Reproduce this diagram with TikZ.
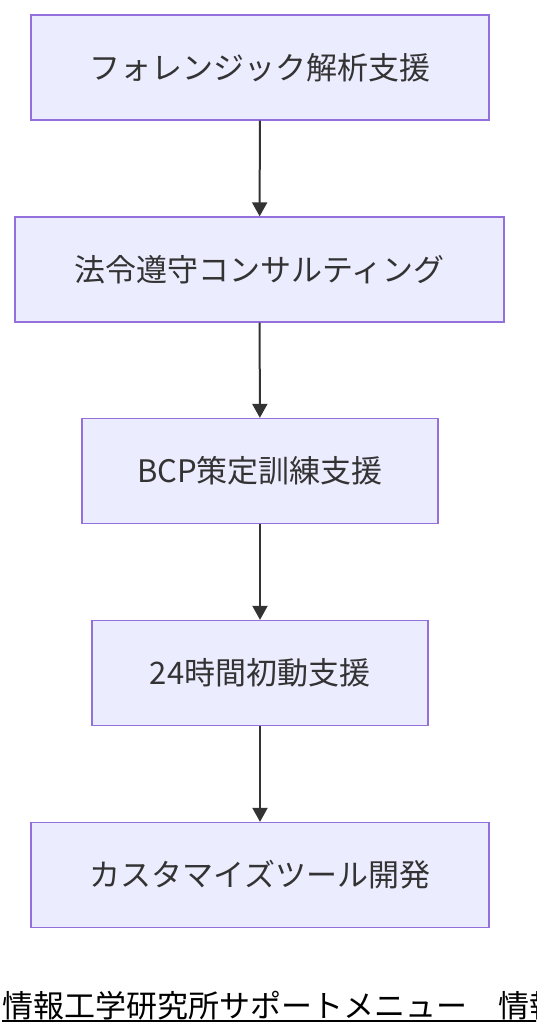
\documentclass[tikz,border=0pt]{standalone}
\usepackage{fontspec}
\newfontfamily\jpfont{Noto Sans CJK JP}
\usetikzlibrary{arrows.meta}
\definecolor{boxfill}{HTML}{ECECFF}
\definecolor{boxline}{HTML}{9370DB}
\definecolor{darktext}{HTML}{333333}

\begin{document}
\begin{tikzpicture}[x=1pt, y=1pt]


        % Setup the style for the boxes
        \tikzset{menu box/.style={draw=boxline,
                                  fill=boxfill,
                                  line width=1.3pt,
                                  minimum height=105pt,
                                  inner xsep=0pt,
                                  text=darktext,
                                  font=\jpfont\fontsize{31}{37}\selectfont},
                 flow/.style={draw=darktext, line width=2pt,
                              -{Triangle[width=15pt, length=14pt]}}}

\useasboundingbox (0,0) rectangle (536,1036);
\clip (0,0) rectangle (536,1036);

% Add the boxes
\node[menu box, minimum width=458pt] at (260,968.5) (forensic) {フォレンジック解析支援};

\node[menu box, minimum width=489pt] at (259.5,766.5) (legal) {法令遵守コンサルティング};

\node[menu box, minimum width=356pt] at (260,565) (bcp) {BCP策定訓練支援};

\node[menu box, minimum width=336pt] at (260,363) (initial) {24時間初動支援};

\node[menu box, minimum width=458pt] at (260,161) (tool) {カスタマイズツール開発};

	 \draw[flow] (forensic) -- (legal);
	 \draw[flow] (legal) -- (bcp);
	 \draw[flow] (bcp) -- (initial);
	 \draw[flow] (initial) -- (tool);

% Caption, cut off at the right edge
\node[anchor=base west, inner sep=0pt, font=\jpfont\fontsize{31}{37}\selectfont]
	at (2,19) (caption) {情報工学研究所サポートメニュー　情報工学研究所};
\draw[line width=1.5pt] ([yshift=-4pt]caption.base west) -- ([yshift=-4pt]caption.base east);
\end{tikzpicture}
\end{document}
